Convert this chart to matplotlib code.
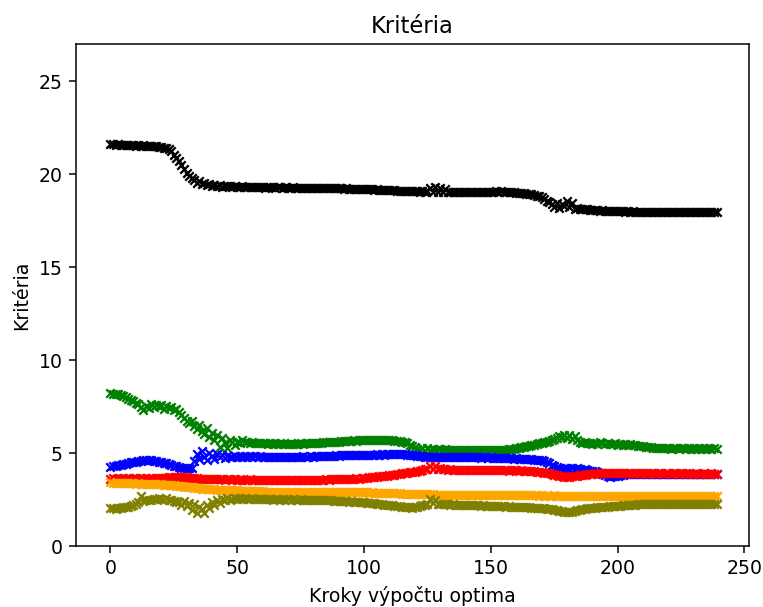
import matplotlib
matplotlib.use("Agg")
import matplotlib.pyplot as plt
import numpy as np

steps = list(range(240))

black_vals = [
    21.62, 21.60, 21.58, 21.61, 21.57, 21.59, 21.56, 21.58, 21.55, 21.57,
    21.54, 21.56, 21.53, 21.55, 21.52, 21.54, 21.50, 21.52, 21.49, 21.47,
    21.45, 21.42, 21.38, 21.33, 21.22, 21.05, 20.88, 20.70, 20.48, 20.30,
    20.05, 19.92, 19.78, 19.70, 19.55, 19.62, 19.48, 19.52, 19.40, 19.45,
    19.38, 19.42, 19.35, 19.40, 19.33, 19.38, 19.34, 19.36, 19.32, 19.35,
    19.33, 19.31, 19.34, 19.30, 19.32, 19.31, 19.30, 19.32, 19.29, 19.31,
    19.30, 19.28, 19.31, 19.29, 19.30, 19.28, 19.29, 19.30, 19.28, 19.29,
    19.28, 19.27, 19.29, 19.28, 19.27, 19.28, 19.26, 19.28, 19.27, 19.26,
    19.27, 19.25, 19.27, 19.26, 19.25, 19.26, 19.24, 19.25, 19.26, 19.24,
    19.23, 19.24, 19.22, 19.23, 19.22, 19.21, 19.22, 19.20, 19.21, 19.20,
    19.19, 19.20, 19.18, 19.19, 19.17, 19.18, 19.16, 19.17, 19.15, 19.16,
    19.14, 19.15, 19.13, 19.12, 19.11, 19.12, 19.10, 19.09, 19.10, 19.08,
    19.07, 19.08, 19.06, 19.07, 19.05, 19.08, 19.25, 19.05, 19.30, 19.06,
    19.28, 19.05, 19.22, 19.06, 19.04, 19.05, 19.04, 19.06, 19.03, 19.05,
    19.04, 19.03, 19.05, 19.04, 19.03, 19.05, 19.04, 19.03, 19.04, 19.05,
    19.04, 19.06, 19.08, 19.05, 19.07, 19.04, 19.06, 19.03, 19.05, 19.02,
    19.01, 19.00, 18.98, 18.97, 18.95, 18.93, 18.91, 18.88, 18.85, 18.80,
    18.75, 18.68, 18.58, 18.48, 18.38, 18.25, 18.45, 18.18, 18.40, 18.30,
    18.55, 18.22, 18.45, 18.15, 18.20, 18.12, 18.15, 18.10, 18.12, 18.08,
    18.07, 18.05, 18.06, 18.04, 18.05, 18.03, 18.04, 18.02, 18.03, 18.01,
    18.02, 18.00, 18.01, 17.99, 18.00, 17.98, 18.00, 17.99, 17.97, 17.98,
    17.97, 17.98, 17.96, 17.97, 17.95, 17.97, 17.96, 17.95, 17.97, 17.96,
    17.95, 17.96, 17.94, 17.96, 17.95, 17.94, 17.96, 17.95, 17.94, 17.95,
    17.94, 17.96, 17.95, 17.94, 17.95, 17.96, 17.94, 17.95, 17.94, 17.95,
]

green_vals = [
    8.22, 8.18, 8.20, 8.15, 8.12, 8.05, 8.00, 7.92, 7.85, 7.78,
    7.70, 7.62, 7.45, 7.30, 7.55, 7.40, 7.62, 7.48, 7.58, 7.52,
    7.60, 7.35, 7.55, 7.42, 7.48, 7.30, 7.38, 7.20, 7.05, 6.90,
    6.75, 6.60, 6.72, 6.45, 6.30, 6.52, 6.20, 6.05, 6.35, 5.85,
    6.10, 5.70, 5.95, 5.35, 5.80, 5.55, 5.25, 5.70, 5.60, 5.45,
    5.62, 5.55, 5.68, 5.58, 5.62, 5.55, 5.60, 5.52, 5.56, 5.54,
    5.52, 5.55, 5.50, 5.53, 5.51, 5.54, 5.50, 5.52, 5.49, 5.51,
    5.50, 5.52, 5.49, 5.51, 5.50, 5.53, 5.51, 5.52, 5.54, 5.53,
    5.55, 5.54, 5.56, 5.55, 5.57, 5.58, 5.57, 5.59, 5.60, 5.62,
    5.61, 5.63, 5.64, 5.66, 5.65, 5.67, 5.68, 5.67, 5.69, 5.70,
    5.71, 5.70, 5.72, 5.71, 5.70, 5.72, 5.71, 5.70, 5.69, 5.70,
    5.68, 5.69, 5.67, 5.65, 5.64, 5.62, 5.58, 5.52, 5.45, 5.38,
    5.30, 5.22, 5.15, 5.25, 5.12, 5.28, 5.18, 5.24, 5.16, 5.22,
    5.20, 5.17, 5.22, 5.15, 5.19, 5.16, 5.18, 5.15, 5.17, 5.14,
    5.16, 5.15, 5.17, 5.14, 5.16, 5.15, 5.17, 5.16, 5.14, 5.16,
    5.15, 5.17, 5.16, 5.18, 5.17, 5.19, 5.18, 5.20, 5.22, 5.24,
    5.25, 5.28, 5.30, 5.33, 5.36, 5.40, 5.42, 5.45, 5.48, 5.52,
    5.55, 5.58, 5.62, 5.65, 5.70, 5.75, 5.80, 5.92, 5.85, 5.98,
    5.82, 5.95, 5.78, 5.90, 5.70, 5.62, 5.55, 5.58, 5.52, 5.56,
    5.50, 5.55, 5.48, 5.58, 5.52, 5.47, 5.54, 5.50, 5.46, 5.52,
    5.45, 5.48, 5.44, 5.47, 5.43, 5.46, 5.42, 5.44, 5.40, 5.38,
    5.36, 5.34, 5.32, 5.30, 5.29, 5.27, 5.28, 5.26, 5.27, 5.25,
    5.26, 5.24, 5.25, 5.27, 5.24, 5.26, 5.25, 5.23, 5.25, 5.24,
    5.26, 5.24, 5.25, 5.23, 5.25, 5.24, 5.26, 5.24, 5.25, 5.24,
]

blue_vals = [
    4.25, 4.28, 4.30, 4.33, 4.36, 4.40, 4.43, 4.46, 4.50, 4.52,
    4.54, 4.56, 4.58, 4.60, 4.61, 4.62, 4.60, 4.58, 4.56, 4.54,
    4.50, 4.48, 4.46, 4.42, 4.38, 4.32, 4.28, 4.24, 4.21, 4.18,
    4.16, 4.18, 4.22, 4.55, 4.95, 4.70, 5.10, 4.80, 4.62, 5.00,
    4.85, 4.70, 4.95, 4.78, 4.88, 4.72, 4.84, 4.80, 4.76, 4.82,
    4.78, 4.83, 4.80, 4.82, 4.79, 4.84, 4.81, 4.83, 4.80, 4.82,
    4.80, 4.79, 4.81, 4.78, 4.80, 4.79, 4.81, 4.80, 4.78, 4.80,
    4.79, 4.81, 4.80, 4.79, 4.81, 4.80, 4.82, 4.81, 4.80, 4.82,
    4.81, 4.83, 4.82, 4.84, 4.83, 4.85, 4.84, 4.86, 4.85, 4.87,
    4.86, 4.88, 4.87, 4.88, 4.87, 4.89, 4.88, 4.90, 4.89, 4.90,
    4.89, 4.91, 4.90, 4.92, 4.91, 4.93, 4.92, 4.93, 4.92, 4.94,
    4.93, 4.94, 4.93, 4.95, 4.94, 4.93, 4.94, 4.92, 4.91, 4.90,
    4.88, 4.86, 4.84, 4.82, 4.81, 4.80, 4.79, 4.80, 4.78, 4.79,
    4.78, 4.79, 4.77, 4.78, 4.79, 4.77, 4.78, 4.76, 4.78, 4.77,
    4.78, 4.76, 4.77, 4.78, 4.76, 4.77, 4.75, 4.77, 4.76, 4.75,
    4.76, 4.74, 4.75, 4.73, 4.74, 4.72, 4.73, 4.71, 4.72, 4.70,
    4.71, 4.70, 4.69, 4.70, 4.68, 4.67, 4.66, 4.65, 4.64, 4.63,
    4.62, 4.58, 4.52, 4.45, 4.38, 4.30, 4.24, 4.20, 4.14, 4.18,
    4.20, 4.16, 4.22, 4.14, 4.18, 4.12, 4.10, 4.12, 4.08, 4.06,
    4.05, 4.02, 3.98, 3.92, 3.85, 3.80, 3.75, 3.72, 3.74, 3.76,
    3.78, 3.80, 3.83, 3.85, 3.86, 3.88, 3.87, 3.89, 3.88, 3.89,
    3.88, 3.87, 3.89, 3.88, 3.86, 3.88, 3.87, 3.86, 3.88, 3.87,
    3.86, 3.88, 3.87, 3.86, 3.88, 3.87, 3.86, 3.87, 3.88, 3.86,
    3.87, 3.86, 3.88, 3.87, 3.86, 3.87, 3.88, 3.86, 3.87, 3.86,
]

red_vals = [
    3.63, 3.65, 3.62, 3.64, 3.63, 3.65, 3.62, 3.64, 3.63, 3.65,
    3.64, 3.62, 3.65, 3.63, 3.64, 3.62, 3.65, 3.63, 3.66, 3.64,
    3.66, 3.68, 3.67, 3.70, 3.69, 3.71, 3.72, 3.70, 3.72, 3.71,
    3.70, 3.68, 3.67, 3.65, 3.64, 3.62, 3.63, 3.61, 3.62, 3.60,
    3.61, 3.59, 3.60, 3.58, 3.59, 3.57, 3.58, 3.59, 3.57, 3.58,
    3.57, 3.58, 3.56, 3.57, 3.56, 3.58, 3.56, 3.55, 3.57, 3.56,
    3.55, 3.56, 3.54, 3.55, 3.54, 3.56, 3.55, 3.54, 3.55, 3.53,
    3.54, 3.55, 3.53, 3.54, 3.55, 3.53, 3.54, 3.55, 3.54, 3.56,
    3.55, 3.56, 3.55, 3.57, 3.56, 3.58, 3.57, 3.59, 3.58, 3.60,
    3.59, 3.61, 3.60, 3.62, 3.61, 3.63, 3.62, 3.64, 3.63, 3.65,
    3.66, 3.67, 3.69, 3.70, 3.72, 3.73, 3.75, 3.76, 3.78, 3.79,
    3.81, 3.82, 3.84, 3.86, 3.88, 3.90, 3.92, 3.94, 3.96, 3.98,
    3.99, 4.02, 4.05, 4.08, 4.12, 4.15, 4.28, 4.14, 4.32, 4.16,
    4.20, 4.12, 4.14, 4.10, 4.12, 4.09, 4.11, 4.08, 4.10, 4.07,
    4.09, 4.08, 4.10, 4.07, 4.09, 4.08, 4.10, 4.07, 4.09, 4.08,
    4.07, 4.09, 4.08, 4.10, 4.07, 4.09, 4.08, 4.06, 4.08, 4.07,
    4.08, 4.06, 4.07, 4.05, 4.06, 4.04, 4.03, 4.02, 4.00, 3.99,
    3.97, 3.95, 3.92, 3.90, 3.87, 3.84, 3.80, 3.77, 3.74, 3.72,
    3.73, 3.71, 3.74, 3.76, 3.78, 3.80, 3.82, 3.84, 3.86, 3.87,
    3.88, 3.90, 3.89, 3.91, 3.90, 3.92, 3.91, 3.90, 3.92, 3.91,
    3.90, 3.92, 3.91, 3.90, 3.92, 3.91, 3.89, 3.91, 3.90, 3.92,
    3.91, 3.89, 3.90, 3.92, 3.90, 3.89, 3.91, 3.90, 3.89, 3.91,
    3.90, 3.89, 3.91, 3.90, 3.88, 3.90, 3.89, 3.91, 3.90, 3.89,
    3.88, 3.90, 3.89, 3.88, 3.90, 3.89, 3.88, 3.90, 3.89, 3.88,
]

orange_vals = [
    3.42, 3.41, 3.40, 3.41, 3.39, 3.40, 3.38, 3.39, 3.37, 3.38,
    3.36, 3.37, 3.35, 3.36, 3.34, 3.35, 3.33, 3.34, 3.32, 3.33,
    3.31, 3.30, 3.29, 3.28, 3.27, 3.26, 3.24, 3.23, 3.22, 3.20,
    3.18, 3.17, 3.15, 3.14, 3.12, 3.10, 3.09, 3.08, 3.07, 3.06,
    3.05, 3.04, 3.03, 3.03, 3.02, 3.01, 3.01, 3.00, 3.00, 2.99,
    2.99, 2.98, 2.98, 2.97, 2.97, 2.96, 2.96, 2.95, 2.95, 2.94,
    2.94, 2.93, 2.93, 2.92, 2.92, 2.92, 2.91, 2.91, 2.91, 2.90,
    2.90, 2.90, 2.91, 2.90, 2.91, 2.90, 2.90, 2.91, 2.90, 2.90,
    2.90, 2.91, 2.90, 2.90, 2.91, 2.90, 2.89, 2.90, 2.90, 2.89,
    2.90, 2.89, 2.90, 2.89, 2.89, 2.90, 2.89, 2.89, 2.88, 2.89,
    2.88, 2.88, 2.87, 2.88, 2.87, 2.87, 2.86, 2.86, 2.85, 2.85,
    2.85, 2.84, 2.84, 2.83, 2.83, 2.82, 2.82, 2.81, 2.81, 2.80,
    2.80, 2.79, 2.79, 2.78, 2.78, 2.77, 2.77, 2.77, 2.76, 2.76,
    2.76, 2.75, 2.75, 2.75, 2.75, 2.74, 2.74, 2.75, 2.74, 2.74,
    2.74, 2.74, 2.73, 2.74, 2.74, 2.73, 2.74, 2.73, 2.74, 2.73,
    2.73, 2.74, 2.73, 2.73, 2.74, 2.73, 2.73, 2.72, 2.73, 2.73,
    2.72, 2.73, 2.72, 2.73, 2.72, 2.72, 2.73, 2.72, 2.72, 2.71,
    2.72, 2.71, 2.72, 2.71, 2.71, 2.72, 2.71, 2.71, 2.70, 2.71,
    2.71, 2.70, 2.71, 2.70, 2.71, 2.70, 2.70, 2.71, 2.70, 2.70,
    2.70, 2.71, 2.70, 2.70, 2.71, 2.70, 2.69, 2.70, 2.71, 2.70,
    2.70, 2.69, 2.70, 2.71, 2.70, 2.70, 2.69, 2.70, 2.70, 2.71,
    2.70, 2.70, 2.69, 2.70, 2.71, 2.70, 2.70, 2.69, 2.70, 2.70,
    2.71, 2.70, 2.69, 2.70, 2.70, 2.71, 2.70, 2.69, 2.70, 2.70,
    2.70, 2.71, 2.70, 2.69, 2.70, 2.70, 2.71, 2.70, 2.70, 2.69,
]

olive_vals = [
    2.02, 2.04, 2.01, 2.05, 2.06, 2.08, 2.10, 2.12, 2.16, 2.20,
    2.28, 2.35, 2.70, 2.42, 2.48, 2.50, 2.45, 2.55, 2.52, 2.58,
    2.54, 2.50, 2.56, 2.48, 2.45, 2.42, 2.38, 2.35, 2.20, 2.40,
    2.15, 2.30, 1.95, 2.25, 1.80, 2.10, 2.00, 1.75, 2.20, 2.05,
    2.35, 2.20, 2.50, 2.30, 2.55, 2.45, 2.60, 2.50, 2.55, 2.58,
    2.55, 2.57, 2.54, 2.56, 2.55, 2.53, 2.56, 2.54, 2.55, 2.53,
    2.52, 2.54, 2.51, 2.53, 2.50, 2.52, 2.51, 2.50, 2.52, 2.50,
    2.51, 2.49, 2.51, 2.50, 2.49, 2.51, 2.50, 2.48, 2.50, 2.49,
    2.48, 2.50, 2.47, 2.48, 2.46, 2.47, 2.45, 2.46, 2.44, 2.43,
    2.42, 2.43, 2.41, 2.40, 2.39, 2.40, 2.38, 2.37, 2.38, 2.36,
    2.35, 2.33, 2.32, 2.30, 2.29, 2.27, 2.26, 2.24, 2.23, 2.21,
    2.20, 2.18, 2.17, 2.15, 2.14, 2.12, 2.10, 2.09, 2.08, 2.07,
    2.08, 2.10, 2.14, 2.18, 2.22, 2.28, 2.55, 2.30, 2.45, 2.28,
    2.26, 2.25, 2.27, 2.24, 2.23, 2.25, 2.22, 2.23, 2.21, 2.22,
    2.20, 2.21, 2.19, 2.20, 2.18, 2.19, 2.17, 2.18, 2.16, 2.17,
    2.15, 2.16, 2.14, 2.15, 2.13, 2.14, 2.12, 2.13, 2.11, 2.12,
    2.11, 2.10, 2.11, 2.09, 2.10, 2.08, 2.07, 2.06, 2.05, 2.04,
    2.03, 2.02, 2.01, 2.00, 1.98, 1.96, 1.93, 1.90, 1.87, 1.85,
    1.84, 1.83, 1.85, 1.88, 1.92, 1.95, 1.98, 2.00, 2.02, 2.04,
    2.05, 2.06, 2.08, 2.09, 2.10, 2.11, 2.12, 2.13, 2.14, 2.15,
    2.16, 2.17, 2.18, 2.19, 2.20, 2.21, 2.22, 2.23, 2.24, 2.25,
    2.26, 2.25, 2.27, 2.26, 2.27, 2.26, 2.27, 2.26, 2.27, 2.26,
    2.27, 2.26, 2.25, 2.27, 2.26, 2.27, 2.26, 2.25, 2.27, 2.26,
    2.26, 2.27, 2.26, 2.25, 2.27, 2.26, 2.27, 2.26, 2.25, 2.26,
]

series = [
    (black_vals, "black"),
    (green_vals, "green"),
    (blue_vals, "blue"),
    (red_vals, "red"),
    (orange_vals, "orange"),
    (olive_vals, "olive"),
]

DPI = 135.7
W, H = 763, 607
fig = plt.figure(figsize=(W / DPI, H / DPI), dpi=DPI)
ax = fig.add_axes([76 / W, 1 - 546 / H, (749 - 76) / W, (546 - 44) / H])

for vals, col in series:
    ax.scatter(steps, vals, marker="x", color=col, s=20, linewidths=1.2)

ax.set_xlim(-13.6, 251.8)
ax.set_ylim(0, 27)
ax.set_yticks([0, 5, 10, 15, 20, 25])
ax.set_xticks([0, 50, 100, 150, 200, 250])
ax.set_title("Kritéria")
ax.set_xlabel("Kroky výpočtu optima")
ax.set_ylabel("Kritéria")

fig.savefig("out.png", dpi=DPI)
